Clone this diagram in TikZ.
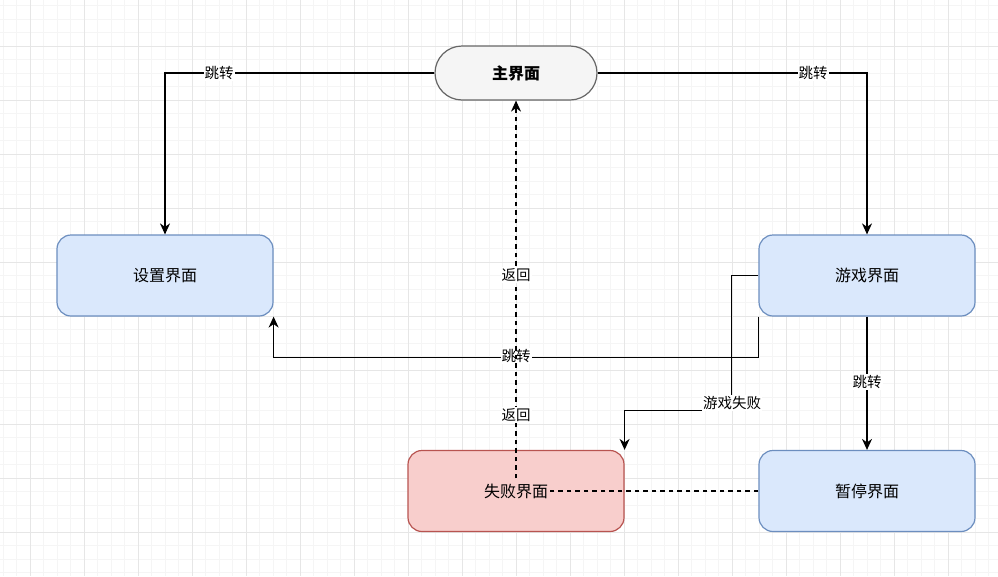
\documentclass[tikz,border=0pt]{standalone}
\usepackage{fontspec}
\newfontfamily\cjk{Noto Sans CJK SC}
\usetikzlibrary{arrows.meta,calc}
\definecolor{bluefill}{HTML}{DAE8FC}
\definecolor{bluestroke}{HTML}{6C8EBF}
\definecolor{redfill}{HTML}{F8CECC}
\definecolor{redstroke}{HTML}{B85450}
\definecolor{grayfill}{HTML}{F5F5F5}
\definecolor{graystroke}{HTML}{666666}
\definecolor{gridminor}{HTML}{F5F5F5}
\definecolor{gridmajor}{HTML}{E6E6E6}
\tikzset{
  box/.style={rectangle, rounded corners=14pt, minimum width=216pt, minimum height=81pt,
    line width=1.2pt, font=\cjk\fontsize{16}{18}\selectfont, inner sep=0pt},
  bluebox/.style={box, fill=bluefill, draw=bluestroke},
  redbox/.style={box, fill=redfill, draw=redstroke},
  mainbox/.style={rectangle, rounded corners=27pt, minimum width=162pt, minimum height=54pt,
    line width=1.2pt, fill=grayfill, draw=graystroke, font=\cjk\bfseries\fontsize{16}{18}\selectfont},
  conn/.style={line width=1.2pt, -{Stealth[length=11pt,width=10pt,inset=3.5pt]}},
  lbl/.style={fill=white, inner sep=1pt, font=\cjk\fontsize{14.5}{16}\selectfont},
}
\begin{document}
\begin{tikzpicture}[x=1pt,y=-1pt]
\useasboundingbox (0,0) rectangle (998,576);
\fill[white] (0,0) rectangle (998,576);
% grid
\foreach \i in {0,...,73} {
  \draw[gridminor, line width=1pt] ({3+13.5*\i},0) -- ({3+13.5*\i},576);
}
\foreach \j in {0,...,42} {
  \draw[gridminor, line width=1pt] (0,{5.5+13.5*\j}) -- (998,{5.5+13.5*\j});
}
\foreach \i in {0,...,18} {
  \draw[gridmajor, line width=1pt] ({30+54*\i},0) -- ({30+54*\i},576);
}
\foreach \j in {0,...,10} {
  \draw[gridmajor, line width=1pt] (0,{46+54*\j}) -- (998,{46+54*\j});
}
% nodes
\node[mainbox] (main) at (516,73) {主界面};
\node[bluebox] (set) at (165,275.5) {设置界面};
\node[bluebox] (game) at (867,275.5) {游戏界面};
\node[redbox] (fail) at (516,491) {};
\node[bluebox] (pause) at (867,491) {暂停界面};
% edges
\draw[conn] (main.west) -| (set.north);
\node[lbl] (l1) at (219,73) {跳转};
\draw[conn] (main.east) -| (game.north);
\node[lbl] (l2) at (813,73) {跳转};
\draw[conn] (game.south west) -- ++(0,40.5) -| (set.south east);
\node[lbl] (l3) at (516,356) {跳转};
\draw[conn] (game.west) -- ++(-27,0) -- ++(0,135) -| (fail.north east);
\node[lbl] (l4) at (732,403) {游戏失败};
\draw[conn] (game.south) -- (pause.north);
\node[lbl] (l5) at (867,382) {跳转};
\draw[conn, dash pattern=on 4.5pt off 4pt] (pause.west) -| (main.south);
\node[lbl] (l6) at (516,275) {返回};
\node[lbl] (l7) at (516,415) {返回};
\node[fill=redfill, inner sep=1.5pt, font=\cjk\fontsize{16}{18}\selectfont] (failtxt) at (fail.center) {失败界面};
\end{tikzpicture}
\end{document}
